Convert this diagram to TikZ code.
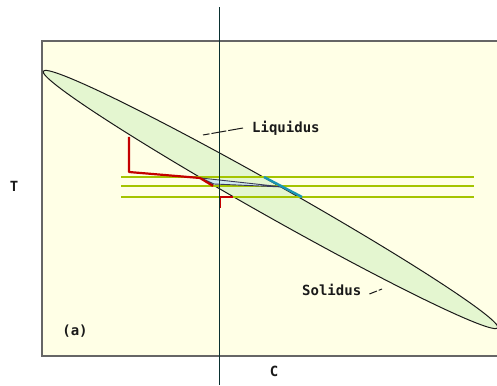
\documentclass[tikz,border=0pt]{standalone}
\usepackage{fontspec}
\setmonofont{DejaVu Sans Mono}
\usetikzlibrary{positioning}
\definecolor{phaseInk}{HTML}{1A1A1A}
\definecolor{phaseFrame}{HTML}{666666}
\definecolor{phasePaper}{HTML}{FFFFE6}
\definecolor{phaseLens}{HTML}{E4F6D0}
\definecolor{phaseLime}{HTML}{A4C400}
\definecolor{phaseRed}{HTML}{C40000}
\definecolor{phaseTeal}{HTML}{1A96B4}
\definecolor{phaseAxis}{HTML}{0A3030}
\definecolor{phaseTie}{HTML}{3A3A5A}
\tikzset{
  every picture/.style={font=\ttfamily\bfseries\fontsize{14}{16}\selectfont, text=phaseInk},
  phase frame/.style={draw=phaseFrame, line width=1.5pt, fill=phasePaper},
  phase lens/.style={draw=phaseInk, line width=1pt, fill=phaseLens},
  phase cut/.style={draw=phaseAxis, line width=0.8pt},
  phase iso/.style={draw=phaseLime, line width=1.5pt},
  phase path/.style={draw=phaseRed, line width=2.2pt, line join=round},
  phase tie/.style={draw=phaseTie, line width=0.9pt, fill=white!80!phaseTeal},
  phase solid/.style={draw=phaseTeal, line width=2.4pt},
  phase leader/.style={draw=phaseInk, line width=1pt},
  phase label/.style={inner sep=0pt, anchor=west}
}

\begin{document}
\begin{tikzpicture}[x=1pt,y=1pt]
  \useasboundingbox (0,0) rectangle (497,385);
  \clip (0,0) rectangle (497,385);
  \draw[phase frame] (42,29) rectangle (520,344);
  \draw[phase lens, rotate around={-29.46:(270.5,185.5)}] (270.5,185.5) ellipse (261 and 16);
  % isotherms
  \foreach \y in {208,199,188} {
    \draw[phase iso] (121,\y) -- (474,\y);
  }
  % tie line and solid
  \draw[phase tie] (201,207) -- (283,198) -- (214,201) -- cycle;
  \draw[phase solid] (264,208) -- (302,188);
  % cooling path
  \draw[phase path] (129,248) -- (129,213) -- (200,207) -- (213,199);
  \draw[phase path] (220,177) -- (220,188) -- (233,188);
  \draw[phase cut] (219,0) -- (219,378);
  % labels
  \node[phase label] (liq) at (252,257) {Liquidus};
  \coordinate (liqtip) at (203,250);
  \draw[phase leader, dash pattern=on 15pt off 2pt] ([xshift=-9pt]liq.west) -- (liqtip);
  \node[phase label] (sol) at (302,95) {Solidus};
  \coordinate (soltip) at (382,96);
  \draw[phase leader, dash pattern=on 8pt off 2pt] ([xshift=8pt,yshift=-4pt]sol.east) -- (soltip);
  \node (tag) at (75,54) {(a)};
  \node (temp) at (14,199) {T};
  \node (conc) at (274,14) {C};
\end{tikzpicture}
\end{document}
